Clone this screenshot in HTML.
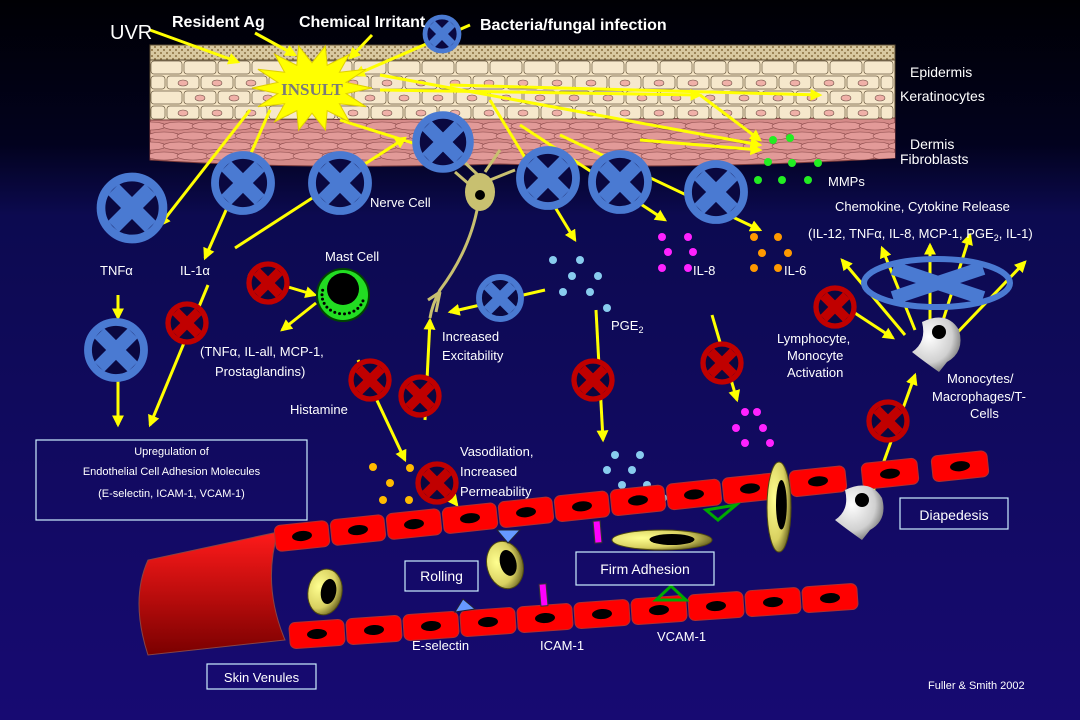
<!DOCTYPE html>
<html><head><meta charset="utf-8"><style>
html,body{margin:0;padding:0;background:#000;}
svg{display:block;font-family:"Liberation Sans",sans-serif;}
</style></head><body>
<svg id="s" width="1080" height="720" viewBox="0 0 1080 720">
<defs>
<linearGradient id="bg" x1="0" y1="0" x2="0" y2="1">
<stop offset="0" stop-color="#000004"/><stop offset="0.2" stop-color="#02021e"/><stop offset="0.3" stop-color="#0c0a50"/><stop offset="1" stop-color="#170a72"/>
</linearGradient>
<linearGradient id="cyl" x1="0" y1="0" x2="0" y2="1"><stop offset="0" stop-color="#ff1a1a"/><stop offset="1" stop-color="#7a0000"/></linearGradient>
<radialGradient id="yc" cx="0.3" cy="0.4" r="0.8"><stop offset="0" stop-color="#ffff90"/><stop offset="0.6" stop-color="#d8d060"/><stop offset="1" stop-color="#4a4410"/></radialGradient>
<radialGradient id="wc" cx="0.35" cy="0.35" r="0.8"><stop offset="0" stop-color="#ffffff"/><stop offset="0.6" stop-color="#d0d0d0"/><stop offset="1" stop-color="#505050"/></radialGradient>
<pattern id="gran" width="6" height="6" patternUnits="userSpaceOnUse"><rect width="6" height="6" fill="#d8c8a0"/><circle cx="2" cy="2" r="1" fill="#8a7040"/><circle cx="5" cy="5" r="1" fill="#8a7040"/></pattern>
<clipPath id="dclip"><path d="M150,120 L895,118 L895,158 Q700,170 500,164 Q300,170 150,160 Z"/></clipPath>
<marker id="ah" viewBox="0 0 10 10" refX="8" refY="5" markerWidth="4" markerHeight="4" orient="auto"><path d="M0,0L10,5L0,10z" fill="#ffff00"/></marker>
</defs>
<rect width="1080" height="720" fill="url(#bg)"/>
<g id="skin">
<rect x="150" y="45" width="745" height="15" fill="url(#gran)" stroke="#5a4a30"/>
<rect x="150" y="60" width="745" height="62" fill="#f3e3c3" stroke="#5a4a30"/>
<path d="M150,120 L895,118 L895,158 Q700,170 500,164 Q300,170 150,160 Z" fill="#d48a88" stroke="#7a3a3a"/>
<g id="fib" clip-path="url(#dclip)"></g>
</g>
<g id="lines" stroke="#ffff00" stroke-width="3" fill="none"></g>
<g id="cells"></g>
<g id="txt" fill="#fff"></g>
</svg>
<script>
const NS='http://www.w3.org/2000/svg';
const svg=document.getElementById('s');
function mk(tag,attrs,parent){const e=document.createElementNS(NS,tag);for(const k in attrs)e.setAttribute(k,attrs[k]);(parent||svg).appendChild(e);return e;}
const skin=document.getElementById('skin');
const fib=document.getElementById('fib');
for(let r=0;r<4;r++){for(let c=0;c<23;c++){const x=150+c*34-(r%2)*17,y=61+r*15;const w=Math.min(32,893-x);if(w<6)continue;const xx=Math.max(x,151);
const e=mk('rect',{x:xx,y:y,width:w-(xx-x),height:13,rx:3,fill:'#f6e8cc',stroke:'#6a5a40','stroke-width':0.7},skin);

if(r>0&&x>150&&x+16<890)mk('ellipse',{cx:x+16,cy:y+7,rx:5,ry:3,fill:'#f0b0a8',stroke:'#6a4a40','stroke-width':0.6},skin);}}
for(let r=0;r<4;r++){for(let c=0;c<27;c++){const x=150+c*29+(r%2)*14,y=126+r*10;
const e=mk('ellipse',{cx:x,cy:y,rx:16,ry:4,fill:'#e29a98',stroke:'#8a4a4a','stroke-width':0.6},fib);
}}
const L=document.getElementById('lines');
function arrow(x1,y1,x2,y2,name){const e=mk('line',{x1,y1,x2,y2,'marker-end':'url(#ah)'},L);
}
arrow(150,30,238,62,'uvr-arrow');arrow(255,33,295,55,'ag-arrow');arrow(372,35,350,58,'irritant-arrow');arrow(470,25,355,75,'bacteria-arrow');
arrow(250,110,160,225);arrow(270,110,205,258);arrow(235,248,405,138);arrow(340,120,435,150);
arrow(380,75,760,145);arrow(380,90,700,95);arrow(700,95,760,140);arrow(450,85,820,95);
arrow(490,100,575,240);arrow(520,125,665,220);arrow(560,135,760,230);arrow(640,140,760,150);
arrow(118,295,118,318);arrow(118,380,118,425);arrow(208,285,150,425);arrow(248,275,315,295);arrow(316,303,282,330);
arrow(358,360,405,460);arrow(425,420,430,320);arrow(545,290,450,312);arrow(596,310,603,440);arrow(712,315,737,400);
arrow(430,470,457,505);arrow(835,300,893,338);arrow(870,500,915,375);
arrow(905,335,842,260);arrow(915,330,882,248);arrow(930,330,930,245);arrow(940,330,970,235);arrow(955,335,1025,262);
const C=document.getElementById('cells');
function xc(cx,cy,r,col,name){const g=mk('g',{},C);
mk('circle',{cx,cy,r,fill:'#0a0840',stroke:col,'stroke-width':r*0.28},g);const d=r*0.6;
mk('line',{x1:cx-d,y1:cy-d,x2:cx+d,y2:cy+d,stroke:col,'stroke-width':r*0.5},g);
mk('line',{x1:cx+d,y1:cy-d,x2:cx-d,y2:cy+d,stroke:col,'stroke-width':r*0.5},g);}
const B='#4a7ad2',R='#c00000';
// nerve cell (drawn before blockers)
let n=mk('g',{},C);
mk('path',{d:'M478,205 Q470,250 440,290 Q432,305 430,318 M478,175 L462,160 M485,172 L500,150 M490,180 L515,170 M470,185 L455,172 M440,292 L428,300 M440,292 L436,312',fill:'none',stroke:'#c8c070','stroke-width':3},n);
mk('ellipse',{cx:480,cy:192,rx:15,ry:19,fill:'#c8c070'},n);mk('circle',{cx:480,cy:195,r:5,fill:'#000'},n);
[[132,208,31],[243,183,28],[340,183,28],[443,142,27],[548,178,28],[620,182,28],[716,192,28],[442,34,17],[116,350,28],[500,298,21]].forEach(p=>xc(p[0],p[1],p[2],B,'blocker-blue'));
[[268,283,19],[187,323,19],[370,380,19],[420,396,19],[437,483,19],[593,380,19],[722,363,19],[835,307,19],[888,421,19]].forEach(p=>xc(p[0],p[1],p[2],R,'blocker-red'));
let g=mk('g',{},C);
mk('ellipse',{cx:937,cy:283,rx:73,ry:24,fill:'none',stroke:B,'stroke-width':6},g);
mk('line',{x1:893,y1:268,x2:983,y2:298,stroke:B,'stroke-width':14},g);mk('line',{x1:983,y1:268,x2:893,y2:298,stroke:B,'stroke-width':14},g);
let pts=[];for(let i=0;i<28;i++){const a=i*Math.PI/14,rr=i%2?28:48;pts.push((312+rr*1.25*Math.cos(a)).toFixed(1)+','+(88+rr*0.9*Math.sin(a)).toFixed(1));}
let st=mk('polygon',{points:pts.join(' '),fill:'#ffff00',stroke:'#e0d000'},C);
let m=mk('circle',{cx:343,cy:295,r:26,fill:'#22dd22',stroke:'#004400','stroke-width':2},C);
mk('circle',{cx:343,cy:289,r:16,fill:'#000'},C);
for(let i=0;i<14;i++){const a=Math.PI*0.1+i*Math.PI*0.058*1.3;mk('circle',{cx:343+21*Math.cos(a),cy:295+21*Math.sin(a)*0.9,r:1.5,fill:'#000'},C);}
function dots(list,col,name){list.forEach(p=>{const e=mk('circle',{cx:p[0],cy:p[1],r:4,fill:col},C);});}
dots([[773,140],[790,138],[768,162],[792,163],[818,163],[758,180],[782,180],[808,180]],'#22ee22','mmp-dot');
dots([[754,237],[778,237],[762,253],[788,253],[754,268],[778,268]],'#ff9900','il6-dot');
dots([[662,237],[688,237],[668,252],[693,252],[662,268],[688,268]],'#ff22ff','il8-dot');
dots([[745,412],[757,412],[736,428],[763,428],[745,443],[770,443]],'#ff22ff','il8-dot');
dots([[553,260],[580,260],[572,276],[598,276],[563,292],[590,292],[607,308]],'#88ccee','pge2-dot');
dots([[615,455],[640,455],[607,470],[632,470],[622,485],[647,485],[663,498]],'#88ccee','pge2-dot');
dots([[373,467],[410,468],[390,483],[383,500],[409,500],[428,515]],'#ffbb00','histamine-dot');
let cy=mk('path',{d:'M278,532 L148,560 Q130,600 148,655 L285,640 Q262,585 278,532 Z',fill:'url(#cyl)',stroke:'#884444'},C);
function ec(x,y,w,ang){const gg=mk('g',{transform:`rotate(${ang} ${x} ${y})`},C);
mk('rect',{x:x-w/2,y:y-13,width:w,height:26,rx:6,fill:'#ff0000',stroke:'#b03030'},gg);mk('ellipse',{cx:x,cy:y,rx:10,ry:5,fill:'#000'},gg);}
for(let i=0;i<9;i++){const x=302+i*56,y=536-(x-302)*0.106;ec(x,y,54,-6);}
[818,890,960].forEach(x=>ec(x,536-(x-302)*0.106,56,-6));
for(let i=0;i<10;i++){const x=317+i*57,y=634-(x-317)*0.07;ec(x,y,55,-4);}
function yl(cx,cy,rx,ry,ang,name){const gg=mk('g',{transform:`rotate(${ang} ${cx} ${cy})`},C);
mk('ellipse',{cx,cy,rx,ry,fill:'url(#yc)',stroke:'#504a10'},gg);mk('ellipse',{cx:cx+rx*0.2,cy:cy-ry*0.05,rx:rx*0.45,ry:ry*0.55,fill:'#000'},gg);}
yl(325,592,17,23,10,'rolling-leukocyte');yl(505,565,18,24,-15,'rolling-leukocyte');yl(662,540,50,10,0,'adhering-leukocyte');yl(779,507,12,45,0,'transmigrating-leukocyte');
function wc(cx,cy,name){const e=mk('path',{d:`M${cx-15},${cy-20} Q${cx+10},${cy-32} ${cx+22},${cy-12} Q${cx+28},${cy+10} ${cx+10},${cy+20} L${cx+2},${cy+30} Q${cx-15},${cy+18} ${cx-25},${cy+10} Q${cx-10},${cy} ${cx-15},${cy-20}Z`,fill:'url(#wc)'},C);
mk('circle',{cx:cx+2,cy:cy-10,r:7,fill:'#000'},C);}
wc(937,342,'macrophage');wc(860,510,'diapedesis-monocyte');
let t1=mk('polygon',{points:'497,530 520,530 508,543',fill:'#6699ff',stroke:'#223'},C);
let t2=mk('polygon',{points:'455,612 475,609 463,599',fill:'#6699ff',stroke:'#223'},C);
let p1=mk('rect',{x:594,y:521,width:7,height:22,fill:'#ff00ff',stroke:'#333',transform:'rotate(-5 597 532)'},C);
let p2=mk('rect',{x:540,y:584,width:7,height:22,fill:'#ff00ff',stroke:'#333',transform:'rotate(-5 543 595)'},C);
let v1=mk('polygon',{points:'656,600 686,600 671,586',fill:'none',stroke:'#00aa00','stroke-width':3},C);
let v2=mk('polygon',{points:'706,510 736,505 718,520',fill:'none',stroke:'#00aa00','stroke-width':3},C);
const T=document.getElementById('txt');
function tx(x,y,s,size,name,opts){const e=mk('text',Object.assign({x,y,'font-size':size||13},opts||{}),T);e.textContent=s;return e;}
tx(110,39,'UVR',20,'uvr-label');tx(172,27,'Resident Ag',16,'resident-ag-label',{'font-weight':'bold'});
tx(299,27,'Chemical Irritant',16,'chemical-irritant-label',{'font-weight':'bold'});tx(480,30,'Bacteria/fungal infection',16,'bacteria-label',{'font-weight':'bold'});
tx(312,95,'INSULT',17,'insult-label',{'font-family':'Liberation Serif','font-weight':'bold',fill:'#7a7a7a','text-anchor':'middle'});
tx(910,77,'Epidermis',14,'epidermis-label');tx(900,101,'Keratinocytes',14,'keratinocytes-label');
tx(910,149,'Dermis',14,'dermis-label');tx(900,164,'Fibroblasts',14,'fibroblasts-label');tx(828,186,'MMPs',13,'mmps-label');
tx(835,211,'Chemokine, Cytokine  Release',13,'chemokine-label');
let ct=tx(808,238,'(IL-12, TNFα, IL-8, MCP-1, PGE',13,'cytokine-list');const ts=mk('tspan',{'font-size':9,dy:3},ct);ts.textContent='2';const ts2=mk('tspan',{dy:-3},ct);ts2.textContent=', IL-1)';
tx(370,207,'Nerve Cell',13,'nerve-cell-label');tx(325,261,'Mast Cell',13,'mast-cell-label');
tx(100,275,'TNFα',13,'tnfa-label');tx(180,275,'IL-1α',13,'il1a-label');
tx(200,356,'(TNFα, IL-all, MCP-1,',13,'mast-mediators-label');tx(215,376,'Prostaglandins)',13,'mast-mediators-label-2');
tx(290,414,'Histamine',13,'histamine-label');tx(442,341,'Increased',13,'increased-label');tx(442,360,'Excitability',13,'excitability-label');
let pg=tx(611,330,'PGE',13,'pge2-label');const pt=mk('tspan',{'font-size':9,dy:3},pg);pt.textContent='2';
tx(693,275,'IL-8',13,'il8-label');tx(784,275,'IL-6',13,'il6-label');
tx(777,343,'Lymphocyte,',13,'lymphocyte-label');tx(787,360,'Monocyte',13,'monocyte-label');tx(787,377,'Activation',13,'activation-label');
tx(947,383,'Monocytes/',13,'monocytes-label');tx(932,401,'Macrophages/T-',13,'macrophages-label');tx(970,418,'Cells',13,'cells-label');
tx(460,456,'Vasodilation,',13,'vasodilation-label');tx(460,476,'Increased',13,'increased-perm-label');tx(460,496,'Permeability',13,'permeability-label');
tx(412,650,'E-selectin',13,'e-selectin-label');tx(540,650,'ICAM-1',13,'icam-label');tx(657,641,'VCAM-1',13,'vcam-label');
tx(928,689,'Fuller & Smith 2002',11,'credit-label');
function box(x,y,w,h,lines,name,size){const gg=mk('g',{},T);
mk('rect',{x,y,width:w,height:h,fill:'none',stroke:'#cceeff','stroke-width':1.2},gg);
lines.forEach((l,i)=>{const e=mk('text',{x:x+w/2,y:l[1],'font-size':size,'text-anchor':'middle',fill:'#fff'},gg);e.textContent=l[0];});}
box(36,440,271,80,[['Upregulation of',455],['Endothelial Cell Adhesion Molecules',475],['(E-selectin, ICAM-1,  VCAM-1)',497]],'adhesion-upregulation-box',11);
box(405,561,73,30,[['Rolling',581]],'rolling-box',14);box(576,552,138,33,[['Firm Adhesion',574]],'firm-adhesion-box',14);
box(900,498,108,31,[['Diapedesis',520]],'diapedesis-box',14);box(207,664,109,25,[['Skin Venules',682]],'skin-venules-box',13);
</script>
</body></html>
